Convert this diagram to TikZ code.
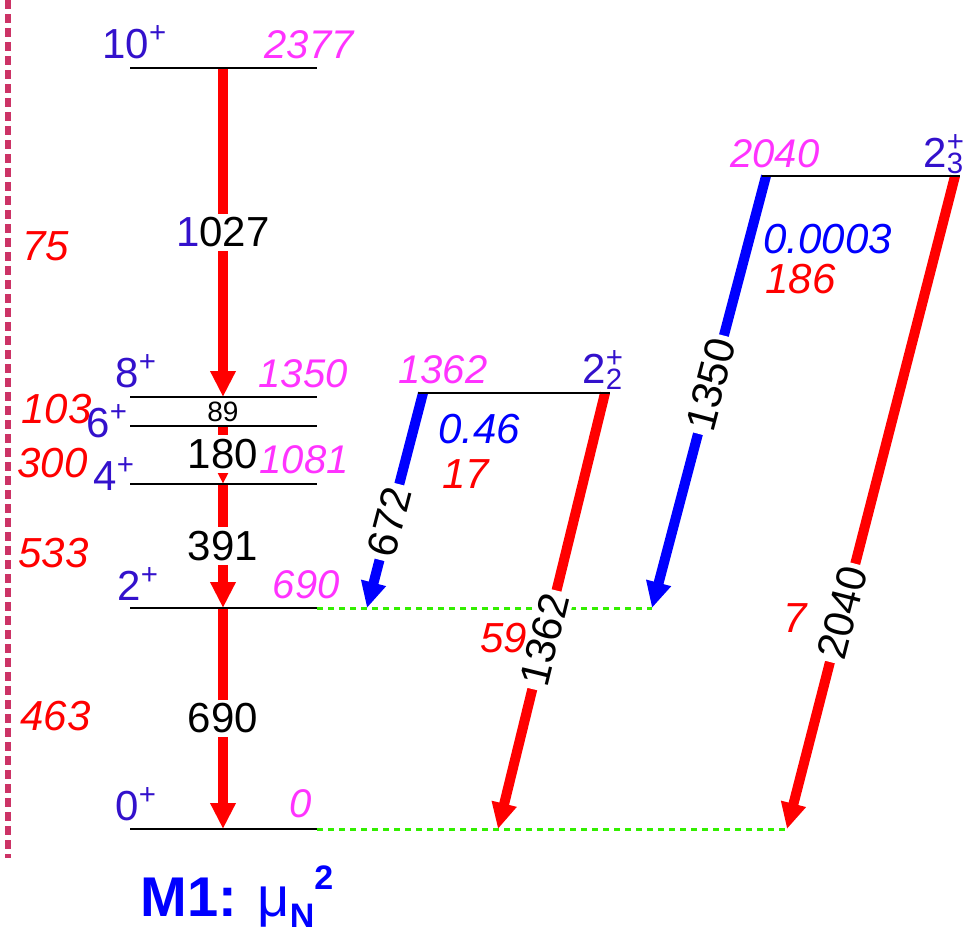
\documentclass[tikz,border=0pt]{standalone}
\usepackage{fontspec}
\setmainfont{Liberation Sans}
\usepackage{xcolor}
\usetikzlibrary{arrows.meta,positioning,calc}
\definecolor{spincol}{HTML}{3311CC}
\definecolor{ecol}{HTML}{FF33FF}
\definecolor{etwo}{HTML}{FF0000}
\definecolor{mone}{HTML}{0000FF}
\definecolor{guidecol}{HTML}{CC3366}
\definecolor{dotcol}{HTML}{33EE00}
\newcommand{\bigfont}{\fontsize{21}{25}\selectfont}
\newcommand{\midfont}{\fontsize{20}{24}\selectfont}
\newcommand{\smallfont}{\fontsize{14}{17}\selectfont}

\begin{document}
\begin{tikzpicture}[x=0.5pt, y=-0.5pt,
    level/.style={line width=1pt},
    feed/.style={dotcol, line width=1.5pt, dash pattern=on 3pt off 2.5pt},
    etrans/.style={etwo, line width=5pt, -{Triangle[length=13pt,width=12pt]}},
    mtrans/.style={mone, line width=5pt, -{Triangle[length=13pt,width=12pt]}},
    gam/.style={fill=white, inner sep=2pt, text=black, font=\bigfont},
    spinlbl/.style={anchor=base west, inner sep=0pt, text=spincol, font=\bigfont},
    elbl/.style={anchor=base east, inner sep=0pt, text=ecol, font=\midfont\itshape},
    redval/.style={anchor=base west, inner sep=0pt, text=etwo, font=\bigfont\itshape},
    blueval/.style={anchor=base west, inner sep=0pt, text=mone, font=\bigfont\itshape}]
    \useasboundingbox (0,0) rectangle (970,937);

    % level ends
    \coordinate (g10L) at (130,68);   \coordinate (g10R) at (317,68);
    \coordinate (g8L) at (130,397);   \coordinate (g8R) at (317,397);
    \coordinate (g6L) at (130,426);   \coordinate (g6R) at (317,426);
    \coordinate (g4L) at (130,484);   \coordinate (g4R) at (317,484);
    \coordinate (g2L) at (130,608);   \coordinate (g2R) at (317,608);
    \coordinate (g0L) at (130,829);   \coordinate (g0R) at (317,829);
    \coordinate (gg2L) at (418,393);  \coordinate (gg2R) at (610,393);
    \coordinate (gg3L) at (762,176);  \coordinate (gg3R) at (960,176);

    % transition ends
    \coordinate (t10) at (223,68);  \coordinate (t8) at (223,397);
    \coordinate (t6) at (223,426);  \coordinate (t4) at (223,484);
    \coordinate (t2) at (223,608);  \coordinate (t0) at (223,829);
    \coordinate (a672) at (423,393);  \coordinate (b672) at (367,608);
    \coordinate (a1362) at (605,393); \coordinate (b1362) at (498,829);
    \coordinate (a1350) at (766,176); \coordinate (b1350) at (652,608);
    \coordinate (a2040) at (955,176); \coordinate (b2040) at (787,829);

    % guide line
    \coordinate (guideT) at (8,0);
    \coordinate (guideB) at (8,858);
    \draw[guidecol, line width=2.8pt, dash pattern=on 4.5pt off 2.5pt] (guideT) -- (guideB);

    % feeding lines
    \draw[feed] (g2R) -- (b1350);
    \draw[feed] (g0R) -- (b2040);

    % ground band
    \draw[etrans] (t10) -- node[gam, pos=0.5] {{\color{spincol}1}027} (t8);
    \draw[etrans] (t6) -- node[gam, pos=0.48, inner xsep=1pt] {180} (t4);
    \draw[etrans] (t4) -- node[gam, pos=0.5] {391} (t2);
    \draw[etrans] (t2) -- node[gam, pos=0.5] {690} (t0);
    \node[font=\smallfont] (l89) at (223,412) {89};

    % gamma band decays
    \draw[mtrans] (a672) -- node[gam, sloped, pos=0.6] {672} (b672);
    \draw[etrans] (a1362) -- node[gam, sloped, pos=0.566] {1362} (b1362);
    \draw[mtrans] (a1350) -- node[gam, sloped, pos=0.483] {1350} (b1350);
    \draw[etrans] (a2040) -- node[gam, sloped, pos=0.669] {2040} (b2040);

    % levels
    \draw[level] (g10L) -- (g10R);
    \draw[level] (g8L) -- (g8R);
    \draw[level] (g6L) -- (g6R);
    \draw[level] (g4L) -- (g4R);
    \draw[level] (g2L) -- (g2R);
    \draw[level] (g0L) -- (g0R);
    \draw[level] (gg2L) -- (gg2R);
    \draw[level] (gg3L) -- (gg3R);

    % spins
    \node[spinlbl] (s10) at (102,58) {10\textsuperscript{+}};
    \node[spinlbl] (s8) at (115,387) {8\textsuperscript{+}};
    \node[spinlbl] (s6) at (86,437) {6\textsuperscript{+}};
    \node[spinlbl] (s4) at (93,490) {4\textsuperscript{+}};
    \node[spinlbl] (s2) at (117,600) {2\textsuperscript{+}};
    \node[spinlbl] (s0) at (115,820) {0\textsuperscript{+}};
    \node[spinlbl] (s22) at (582,383) {2\rlap{\textsuperscript{+}}\textsubscript{2}};
    \node[spinlbl] (s23) at (923,167) {2\rlap{\textsuperscript{+}}\textsubscript{3}};

    % energies
    \node[elbl] (e2377) at (354,58) {2377};
    \node[elbl] (e1350) at (348,387) {1350};
    \node[elbl] (e1081) at (349,473) {1081};
    \node[elbl] (e690) at (340,598) {690};
    \node[elbl] (e0) at (312,817) {0};
    \node[elbl, anchor=base west] (e1362) at (398,383) {1362};
    \node[elbl, anchor=base west] (e2040) at (730,167) {2040};

    % B(E2) values
    \node[redval] (v75) at (22,260) {75};
    \node[redval] (v103) at (21,423) {103};
    \node[redval] (v300) at (17,477) {300};
    \node[redval] (v533) at (18,567) {533};
    \node[redval] (v463) at (20,730) {463};
    \node[redval] (v17) at (442,488) {17};
    \node[redval] (v186) at (765,293) {186};
    \node[redval] (v59) at (480,652) {59};
    \node[redval] (v7) at (783,632) {7};

    % B(M1) values
    \node[blueval] (m046) at (438,443) {0.46};
    \node[blueval] (m0003) at (763,253) {0.0003};

    \node[anchor=base west, inner sep=0pt, text=mone, font=\fontsize{28}{32}\selectfont\bfseries] (unit) at (140,916)
      {M1: {\mdseries μ}\raisebox{-0.4ex}{\fontsize{17}{20}\selectfont N}\raisebox{0.9ex}{\fontsize{17}{20}\selectfont 2}};
\end{tikzpicture}
\end{document}
